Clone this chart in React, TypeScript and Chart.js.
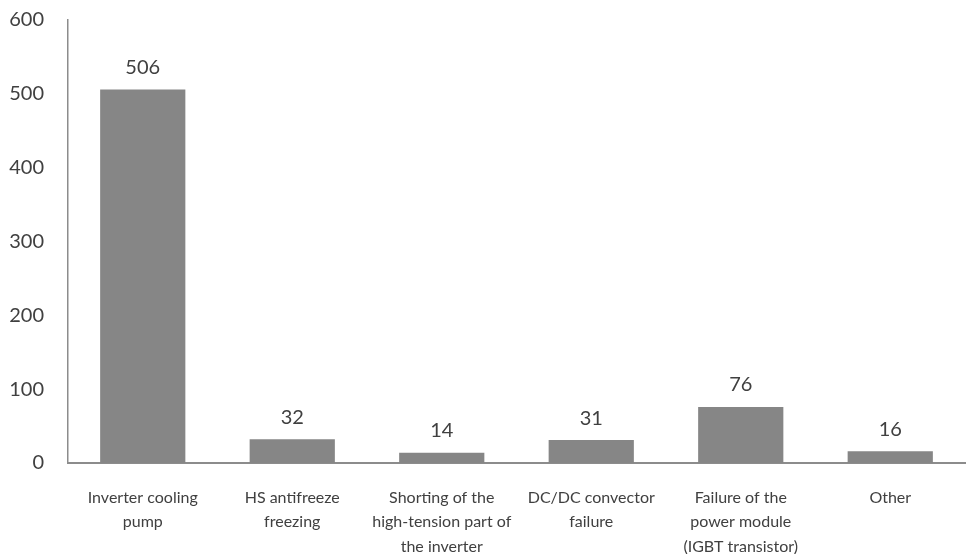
import React, { useEffect, useRef } from "react";
import { Chart, registerables } from "chart.js";

Chart.register(...registerables);

const categories: string[][] = [
  ["Inverter cooling", "pump"],
  ["HS antifreeze", "freezing"],
  ["Shorting of the", "high-tension part of", "the inverter"],
  ["DC/DC convector", "failure"],
  ["Failure of the", "power module", "(IGBT transistor)"],
  ["Other"],
];
const values: number[] = [506, 32, 14, 31, 76, 16];
const yTicks: number[] = [0, 100, 200, 300, 400, 500, 600];

const FONT = "Lato, 'Open Sans', sans-serif";

const valueLabels = {
  id: "valueLabels",
  afterDatasetsDraw(chart: any) {
    const ctx = chart.ctx;
    const meta = chart.getDatasetMeta(0);
    ctx.save();
    ctx.font = `20px ${FONT}`;
    ctx.fillStyle = "#404040";
    ctx.textAlign = "center";
    ctx.textBaseline = "middle";
    meta.data.forEach((bar: any, i: number) => {
      ctx.fillText(String(values[i]), bar.x, bar.y - 22);
    });
    ctx.restore();
  },
};

export default function App() {
  const ref = useRef<HTMLCanvasElement | null>(null);
  useEffect(() => {
    document.body.style.margin = "0";
    const chart = new Chart(ref.current as HTMLCanvasElement, {
      type: "bar",
      data: {
        labels: categories,
        datasets: [
          {
            data: values,
            backgroundColor: "#868686",
            barPercentage: 0.57,
            categoryPercentage: 1,
          },
        ],
      },
      options: {
        animation: false,
        responsive: false,
        layout: { padding: { top: 20, right: 1, left: 0, bottom: 0 } },
        plugins: { legend: { display: false }, tooltip: { enabled: false } },
        scales: {
          x: {
            grid: { display: false, drawTicks: false },
            border: { display: true, color: "#8c8c8c", width: 2 },
            ticks: {
              color: "#404040",
              font: { family: FONT, size: 16, lineHeight: 1.55 },
              padding: 22,
              maxRotation: 0,
              autoSkip: false,
            },
            afterFit: (s: any) => {
              s.height = 91;
            },
          },
          y: {
            min: 0,
            max: 600,
            afterBuildTicks: (s: any) => {
              s.ticks = yTicks.map((v) => ({ value: v }));
            },
            grid: { display: false, drawTicks: false },
            border: { display: true, color: "#8c8c8c", width: 1.5 },
            ticks: {
              color: "#404040",
              font: { family: FONT, size: 20 },
              padding: 24,
            },
            afterFit: (s: any) => {
              s.width = 68;
              s.paddingTop = 0;
              s.paddingBottom = 0;
            },
          },
        },
      },
      plugins: [valueLabels],
    });
    return () => chart.destroy();
  }, []);
  return (
    <div style={{ position: "absolute", left: 0, top: 0, width: 966, height: 554 }}>
      <canvas ref={ref} width={966} height={554} />
    </div>
  );
}
